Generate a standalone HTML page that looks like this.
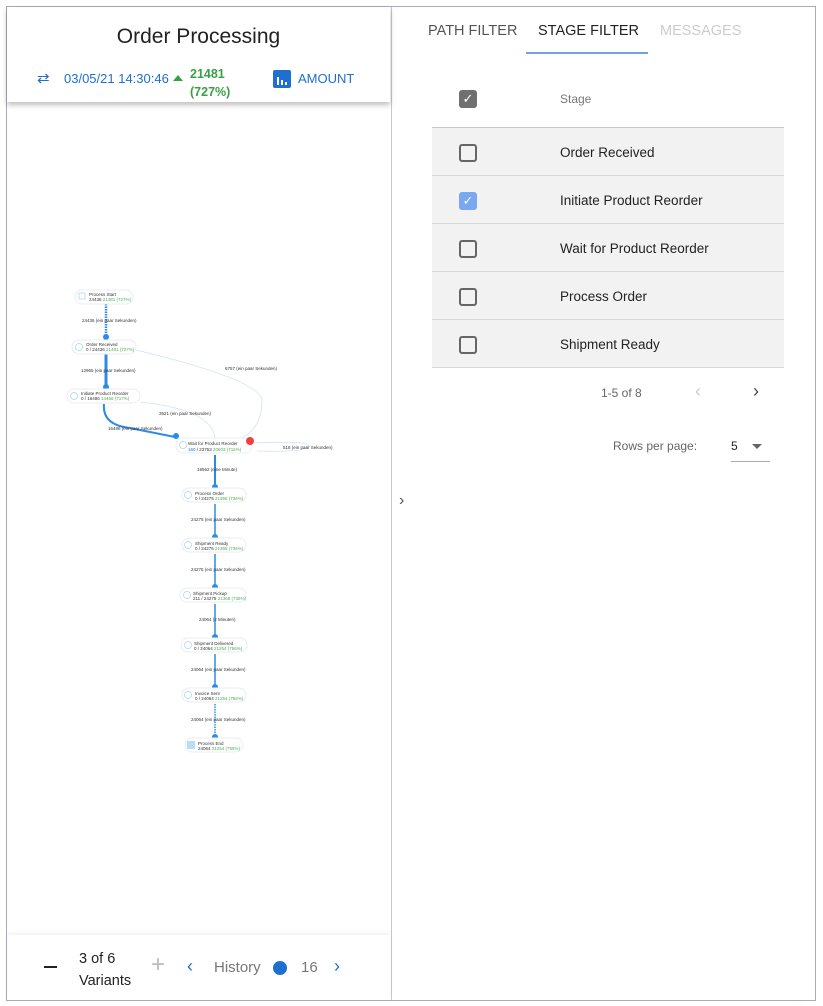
<!DOCTYPE html>
<html><head><meta charset="utf-8"><style>
*{box-sizing:border-box;margin:0;padding:0}
body{width:823px;height:1006px;background:#fff;font-family:"Liberation Sans",Arial,sans-serif;position:relative;overflow:hidden}
.frame{position:absolute;left:6px;top:6px;width:810px;height:995px;border:1px solid #a9a9bf}
.divider{position:absolute;left:391px;top:7px;width:1px;height:993px;background:#c8c8d0}
.hdr{position:absolute;left:7px;top:7px;width:383px;height:95px;background:#fff;box-shadow:0 3px 5px rgba(0,0,0,.25)}
.title{position:absolute;left:0;width:383px;top:18px;text-align:center;font-size:21px;color:#222}
.blue{color:#1e6fd0}
.abs{position:absolute}
.foot{position:absolute;left:7px;top:935px;width:383px;height:65px;background:#fff;box-shadow:0 -2px 4px rgba(0,0,0,.06)}
.tab{position:absolute;top:23px;font-size:14.5px}
.row{position:absolute;left:432px;width:352px;height:48px;background:#f2f2f2;border-bottom:1px solid #d8d8d8}
.cb{position:absolute;left:27px;top:16px;width:18px;height:18px;border:2px solid #666;border-radius:3px}
.lbl{position:absolute;left:128px;top:17px;font-size:13.5px;color:#222}
</style></head><body>
<div class="frame"></div>
<div class="divider"></div>

<svg class="abs" style="left:0;top:0" width="391" height="1000" font-family="Liberation Sans,Arial,sans-serif" font-size="4.5">
<defs>
<g id="nd"></g>
</defs>
<g fill="none" stroke="#cfe3f7" stroke-width="0.8">
<path d="M136 350 Q260 380 262 400 Q262 430 238 440"/>
<path d="M215 440 Q215 410 140 402"/>
<path d="M252 443 Q330 440 300 450 Q280 452 257 451"/>
</g>
<g stroke="#2d8be8" fill="none">
<line x1="106" y1="304" x2="106" y2="338" stroke-width="2.5" stroke-dasharray="1.5 1"/>
<line x1="106" y1="354" x2="106" y2="388" stroke-width="3"/>
<path d="M104 404 Q102 425 130 428 L175 437" stroke-width="2"/>
<line x1="215" y1="455" x2="215" y2="490" stroke-width="2"/>
<line x1="215" y1="504" x2="215" y2="540" stroke-width="1.5"/>
<line x1="215" y1="554" x2="215" y2="590" stroke-width="1.5"/>
<line x1="215" y1="604" x2="215" y2="640" stroke-width="1.5"/>
<line x1="215" y1="654" x2="215" y2="690" stroke-width="1.5"/>
<line x1="215" y1="704" x2="215" y2="740" stroke-width="1.5" stroke-dasharray="1.5 1"/>
</g>
<g fill="#2d8be8">
<circle cx="106" cy="337" r="3"/><circle cx="106" cy="387" r="3"/><circle cx="176" cy="436" r="3"/>
<circle cx="215" cy="487" r="3"/><circle cx="215" cy="537" r="3"/><circle cx="215" cy="587" r="3"/>
<circle cx="215" cy="637" r="3"/><circle cx="215" cy="687" r="3"/><circle cx="215" cy="737" r="3"/>
</g>
<g fill="#fff" stroke="#e8edf2" stroke-width="1">
<rect x="75" y="290" width="58" height="14" rx="7"/>
<rect x="72" y="340" width="64" height="14" rx="7"/>
<rect x="67" y="389" width="73" height="14" rx="7"/>
<rect x="176" y="438" width="76" height="15" rx="7"/>
<rect x="182" y="488" width="64" height="14" rx="7"/>
<rect x="182" y="538" width="64" height="14" rx="7"/>
<rect x="180" y="588" width="66" height="14" rx="7"/>
<rect x="181" y="638" width="66" height="14" rx="7"/>
<rect x="182" y="688" width="64" height="14" rx="7"/>
<rect x="185" y="738" width="58" height="14" rx="7"/>
</g>
<g fill="none" stroke="#aad0f4" stroke-width="0.7">
<rect x="79" y="293" width="6" height="6"/>
<circle cx="79" cy="347" r="3.5"/><circle cx="74" cy="396" r="3.5"/><circle cx="183" cy="445" r="3.5"/>
<circle cx="188" cy="495" r="3.5"/><circle cx="188" cy="545" r="3.5"/><circle cx="187" cy="595" r="3.5"/>
<circle cx="188" cy="645" r="3.5"/><circle cx="188" cy="695" r="3.5"/>
</g>
<rect x="187" y="741" width="8" height="8" fill="#bcdcf5"/>
<circle cx="250" cy="441" r="4" fill="#f04040"/>
<g fill="#333">
<text x="89" y="296">Process Start</text><text x="89" y="301">24436 <tspan fill="#4caf50">21481 (727%)</tspan></text>
<text x="86" y="346">Order Received</text><text x="86" y="351">0 / 24436 <tspan fill="#4caf50">21481 (727%)</tspan></text>
<text x="81" y="395">Initiate Product Reorder</text><text x="81" y="400">0 / 16486 <tspan fill="#4caf50">14466 (717%)</tspan></text>
<text x="188" y="445">Wait for Product Reorder</text><text x="188" y="451"><tspan fill="#1e6fd0">160</tspan> / 23753 <tspan fill="#4caf50">20603 (715%)</tspan></text>
<text x="195" y="495">Process Order</text><text x="195" y="500">0 / 24275 <tspan fill="#4caf50">21368 (736%)</tspan></text>
<text x="195" y="545">Shipment Ready</text><text x="195" y="550">0 / 24275 <tspan fill="#4caf50">21368 (736%)</tspan></text>
<text x="193" y="595">Shipment Pickup</text><text x="193" y="600">211 / 24275 <tspan fill="#4caf50">21368 (736%)</tspan></text>
<text x="194" y="645">Shipment Delivered</text><text x="194" y="650">0 / 24064 <tspan fill="#4caf50">21254 (756%)</tspan></text>
<text x="195" y="695">Invoice Sent</text><text x="195" y="700">0 / 24064 <tspan fill="#4caf50">21254 (756%)</tspan></text>
<text x="198" y="745">Process End</text><text x="198" y="750">24064 <tspan fill="#4caf50">21254 (755%)</tspan></text>
<text x="82" y="322">24436 (ein paar Sekunden)</text>
<text x="81" y="372">12965 (ein paar Sekunden)</text>
<text x="225" y="370">6757 (ein paar Sekunden)</text>
<text x="159" y="415">3521 (ein paar Sekunden)</text>
<text x="108" y="430">16486 (ein paar Sekunden)</text>
<text x="283" y="449">518 (ein paar Sekunden)</text>
<text x="197" y="471">19562 (eine Minute)</text>
<text x="191" y="521">24275 (ein paar Sekunden)</text>
<text x="191" y="571">24275 (ein paar Sekunden)</text>
<text x="199" y="621">24064 (2 Minuten)</text>
<text x="191" y="671">24064 (ein paar Sekunden)</text>
<text x="191" y="721">24064 (ein paar Sekunden)</text>
</g>
</svg>

<div class="hdr">
<div class="title">Order Processing</div>
<div class="abs blue" style="left:30px;top:62px;font-size:15px">⇄</div>
<div class="abs blue" style="left:57px;top:64px;font-size:13px">03/05/21 14:30:46</div>
<div class="abs" style="left:166px;top:68px;width:0;height:0;border-left:5px solid transparent;border-right:5px solid transparent;border-bottom:6px solid #3aa048"></div>
<div class="abs" style="left:183px;top:58px;font-size:12.5px;font-weight:bold;color:#3aa048;line-height:18px">21481<br>(727%)</div>
<div class="abs" style="left:266px;top:63px;width:18px;height:18px;background:#1e6fd0;border-radius:2px"></div>
<div class="abs" style="left:270px;top:70px;width:2px;height:8px;background:#fff"></div>
<div class="abs" style="left:274px;top:73px;width:2px;height:5px;background:#fff"></div>
<div class="abs" style="left:278px;top:75px;width:2px;height:3px;background:#fff"></div>
<div class="abs blue" style="left:291px;top:64px;font-size:13px">AMOUNT</div>
</div>

<div class="foot">
<div class="abs" style="left:37px;top:31px;width:13px;height:2px;background:#222"></div>
<div class="abs" style="left:72px;top:13px;font-size:14.5px;color:#222;line-height:22px">3 of 6<br>Variants</div>
<div class="abs" style="left:144px;top:16px;font-size:24px;color:#bbb;font-weight:300">+</div>
<div class="abs blue" style="left:180px;top:21px;font-size:18px">‹</div>
<div class="abs" style="left:207px;top:24px;font-size:15px;color:#777">History</div>
<div class="abs" style="left:266px;top:26px;width:14px;height:14px;border-radius:50%;background:#1e6fd0"></div>
<div class="abs" style="left:294px;top:24px;font-size:15px;color:#777">16</div>
<div class="abs blue" style="left:327px;top:21px;font-size:18px">›</div>
</div>

<div class="abs" style="left:399px;top:492px;font-size:16px;color:#555">›</div>

<div class="tab" style="left:428px;color:#555">PATH FILTER</div>
<div class="tab" style="left:538px;color:#222">STAGE FILTER</div>
<div class="tab" style="left:660px;color:#ccc">MESSAGES</div>
<div class="abs" style="left:526px;top:52px;width:122px;height:2px;background:#6ea2e8"></div>

<div class="abs" style="left:432px;top:75px;width:352px;height:53px;border-bottom:1px solid #c8c8c8">
<div class="abs" style="left:27px;top:15px;width:18px;height:18px;background:#707070;border-radius:3px;color:#fff;font-size:13px;text-align:center;line-height:18px">✓</div>
<div class="abs" style="left:128px;top:17px;font-size:12px;color:#777">Stage</div>
</div>
<div class="row" style="top:128px"><div class="cb"></div><div class="lbl">Order Received</div></div>
<div class="row" style="top:176px"><div class="cb" style="border:none;background:#7aa8f0;color:#fff;font-size:13px;text-align:center;line-height:18px">✓</div><div class="lbl">Initiate Product Reorder</div></div>
<div class="row" style="top:224px"><div class="cb"></div><div class="lbl">Wait for Product Reorder</div></div>
<div class="row" style="top:272px"><div class="cb"></div><div class="lbl">Process Order</div></div>
<div class="row" style="top:320px"><div class="cb"></div><div class="lbl">Shipment Ready</div></div>

<div class="abs" style="left:601px;top:386px;font-size:12px;color:#666">1-5 of 8</div>
<div class="abs" style="left:695px;top:381px;font-size:18px;color:#ccc">‹</div>
<div class="abs" style="left:753px;top:381px;font-size:18px;color:#444">›</div>
<div class="abs" style="left:613px;top:439px;font-size:12px;color:#666">Rows per page:</div>
<div class="abs" style="left:731px;top:439px;font-size:12px;color:#222">5</div>
<div class="abs" style="left:752px;top:444px;width:0;height:0;border-left:5px solid transparent;border-right:5px solid transparent;border-top:5px solid #666"></div>
<div class="abs" style="left:731px;top:461px;width:39px;height:1px;background:#aaa"></div>
</body></html>
